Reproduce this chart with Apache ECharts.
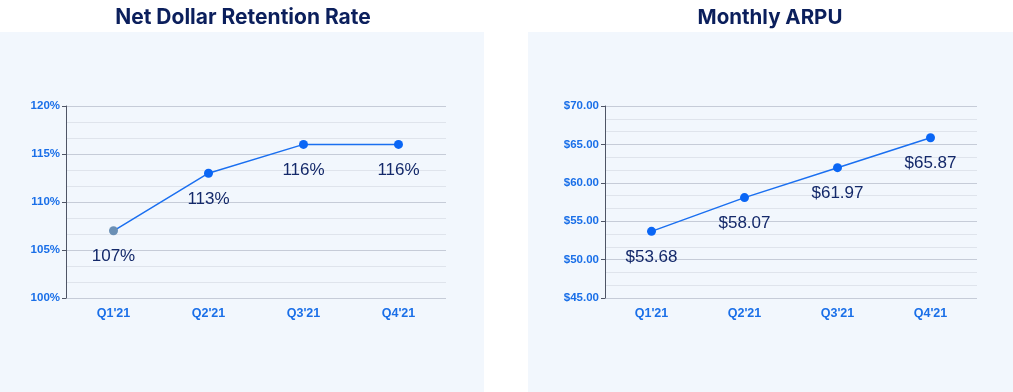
<!DOCTYPE html>
<html><head><meta charset="utf-8">
<script src="https://cdn.jsdelivr.net/npm/echarts@6/dist/echarts.min.js"></script>
<style>html,body{margin:0;padding:0;background:#fff}#c{width:1013px;height:392px}</style>
</head><body><div id="c"></div>
<script>
const categories = ["Q1'21","Q2'21","Q3'21","Q4'21"];
const ndrValues = [107,113,116,116];
const arpuValues = [53.68,58.07,61.97,65.87];
const titles = ["Net Dollar Retention Rate","Monthly ARPU"];

const blue = '#1a6ff0';
const labelBlue = '#1a6fe8';
const navy = '#0b1f5c';
const dataNavy = '#14296a';

function yAxis(gi, min, max, fmt){
  return {type:'value', gridIndex:gi, min:min, max:max, interval:5, splitNumber:4,
    axisLine:{show:true, lineStyle:{color:'#4f5566', width:1}},
    axisTick:{show:true, length:4, lineStyle:{color:'#4f5566'}},
    axisLabel:{color:labelBlue, fontWeight:'bold', fontSize:11.5, fontFamily:'Liberation Sans, Arial', margin:6, formatter:fmt},
    splitLine:{show:true, lineStyle:{color:'#c6ccd8', width:1}},
    minorTick:{show:false, splitNumber:3},
    minorSplitLine:{show:true, lineStyle:{color:'#dfe4ec', width:1}}
  };
}
function xAxis(gi){
  return {type:'category', gridIndex:gi, data:categories, boundaryGap:true,
    axisLine:{show:false}, axisTick:{show:false},
    axisLabel:{color:labelBlue, fontWeight:'bold', fontSize:12.5, fontFamily:'Liberation Sans, Arial', margin:9}};
}
const ndrData = ndrValues.map((v,i)=> i===0 ? {value:v, itemStyle:{color:'#6a8fb5'}} : v);

const option = {
  animation:false,
  graphic:[
    {type:'rect', shape:{x:0,y:32,width:484,height:360}, style:{fill:'#f2f7fd'}, z:-10},
    {type:'rect', shape:{x:528,y:32,width:485,height:360}, style:{fill:'#f2f7fd'}, z:-10}
  ],
  title:[
    {text:titles[0], left:238, textAlign:'center', top:2, textStyle:{color:navy, fontSize:21, fontWeight:'bold', fontFamily:'Inter'}},
    {text:titles[1], left:765, textAlign:'center', top:2, textStyle:{color:navy, fontSize:20.5, fontWeight:'bold', fontFamily:'Inter'}}
  ],
  grid:[
    {left:66, top:106, width:380, height:192},
    {left:605, top:106, width:372, height:192}
  ],
  xAxis:[xAxis(0), xAxis(1)],
  yAxis:[
    yAxis(0,100,120,v=>v+'%'),
    yAxis(1,45,70,v=>'$'+v.toFixed(2))
  ],
  series:[
    {type:'line', xAxisIndex:0, yAxisIndex:0, data:ndrData, symbol:'circle', symbolSize:9,
      lineStyle:{color:blue, width:1.5}, itemStyle:{color:'#0a66f5'},
      label:{show:true, position:'bottom', distance:13, color:dataNavy, fontSize:17, fontFamily:'Liberation Sans, Arial', formatter:p=>p.value+'%'}},
    {type:'line', xAxisIndex:1, yAxisIndex:1, data:arpuValues, symbol:'circle', symbolSize:9,
      lineStyle:{color:blue, width:1.5}, itemStyle:{color:'#0a66f5'},
      label:{show:true, position:'bottom', distance:13, color:dataNavy, fontSize:17, fontFamily:'Liberation Sans, Arial', formatter:p=>'$'+p.value.toFixed(2)}}
  ]
};
const chart = echarts.init(document.getElementById('c'));
chart.setOption(option);
</script></body></html>
